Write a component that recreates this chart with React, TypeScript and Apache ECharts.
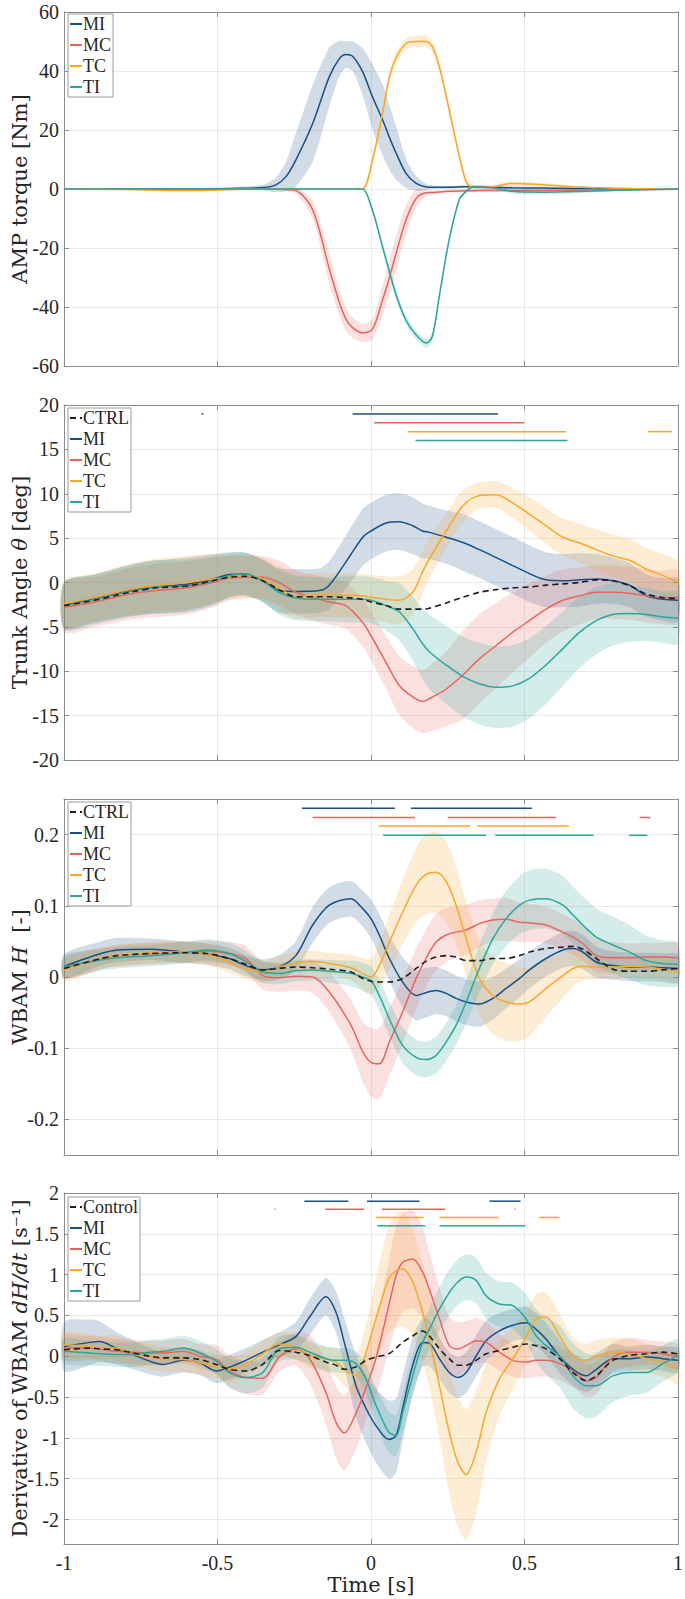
import React, { useEffect, useRef } from "react";
import * as echarts from "echarts";

// ---------- Panel 1: AMP torque [Nm] ----------
const T1 = [-1, -0.8, -0.6, -0.45, -0.35, -0.31, -0.277, -0.245, -0.19, -0.136, -0.103, -0.082, -0.06, -0.027, 0.005, 0.038, 0.06, 0.082, 0.114, 0.147, 0.18, 0.2, 0.223, 0.255, 0.288, 0.31, 0.33, 0.4, 0.46, 0.55, 0.65, 0.75, 0.85, 1];
const MI1 = [0, 0, 0, 0.2, 0.5, 1.4, 4.2, 9.8, 22.2, 38, 44.2, 45.6, 45, 39.7, 31.2, 23.4, 17.5, 12.1, 5.3, 1.9, 0.7, 0.6, 0.6, 0.6, 0.7, 0.8, 0.8, 0.6, 0.4, 0.3, 0.2, 0.1, 0, 0];
const MI1_SD = [0.3, 0.3, 0.3, 0.5, 1, 2.5, 5, 9, 13, 10, 6, 4.5, 5, 8, 11, 12, 11, 9, 5, 2.5, 1, 0.6, 0.5, 0.5, 0.5, 0.5, 0.5, 0.5, 0.5, 0.5, 0.5, 0.5, 0.3, 0.3];
const MC1 = [0, 0, 0, 0, 0, -0.1, -0.2, -0.5, -7, -27, -38.5, -44, -47, -48.8, -47.5, -37.5, -30, -21.7, -10.5, -3.2, -1.3, -1.2, -1.0, -0.8, -0.7, -0.6, -0.6, -0.5, -0.5, -0.5, -0.4, -0.3, -0.2, 0];
const MC1_SD = [0.3, 0.3, 0.3, 0.3, 0.3, 0.3, 0.5, 1, 3, 5, 4.5, 4, 3.5, 3, 3.5, 5, 6, 6, 5, 3, 1, 0.6, 0.5, 0.5, 0.5, 0.5, 0.5, 0.5, 0.5, 0.5, 0.5, 0.5, 0.3, 0.3];
const TC1 = [0, -0.2, -0.5, -0.2, 0, 0, 0, 0, 0, 0, 0, 0, 0, 0, 9.8, 26, 38, 44.5, 49.3, 50, 50, 48.2, 41.4, 26.7, 11, 2.5, 0.6, 0.8, 1.9, 1.5, 0.8, 0.4, 0.2, 0];
const TC1_SD = [0.3, 0.3, 0.3, 0.3, 0.3, 0.3, 0.3, 0.3, 0.3, 0.3, 0.3, 0.3, 0.3, 0.3, 1.5, 2, 2, 2, 2, 2, 2, 2, 2, 2, 2, 1.5, 0.8, 0.5, 0.8, 0.6, 0.4, 0.3, 0.3, 0.3];
const TI1 = [0, 0, 0, 0, 0, 0, 0, 0, 0, 0, 0, 0, 0, 0, -7.3, -19.7, -28, -36, -44.5, -49.5, -52.2, -50, -36, -17, -3.5, -0.8, 0.6, 0.3, -0.8, -1.1, -0.9, -0.6, -0.3, 0];
const TI1_SD = [0.3, 0.3, 0.3, 0.3, 0.3, 0.3, 0.3, 0.3, 0.3, 0.3, 0.3, 0.3, 0.3, 0.3, 1, 1.5, 1.5, 1.5, 1.5, 1.5, 1.5, 1.5, 1.5, 1.5, 1, 0.5, 0.5, 0.5, 0.8, 0.8, 0.6, 0.5, 0.4, 0.3];

// ---------- Panel 2: Trunk angle [deg] ----------
const T2 = [-1, -0.9, -0.786, -0.7, -0.6, -0.515, -0.46, -0.41, -0.353, -0.3, -0.245, -0.168, -0.136, -0.082, -0.027, 0, 0.049, 0.092, 0.136, 0.168, 0.19, 0.245, 0.3, 0.353, 0.408, 0.462, 0.516, 0.57, 0.625, 0.68, 0.734, 0.788, 0.842, 0.897, 0.95, 1];
const CTRL2 = [-2.6, -2.0, -1.1, -0.6, -0.4, 0.2, 0.6, 0.7, 0.2, -0.8, -1.6, -1.6, -1.6, -1.7, -1.9, -2.2, -2.6, -3.0, -3.0, -3.0, -2.9, -2.3, -1.65, -1.1, -0.8, -0.6, -0.5, -0.3, -0.15, 0.0, 0.3, 0.2, -0.35, -1.3, -1.7, -1.8];
const MI2 = [-2.6, -1.8, -0.9, -0.5, -0.2, 0.4, 0.9, 0.97, 0.2, -0.9, -1.0, -0.9, -0.3, 2.3, 5.1, 5.8, 6.7, 6.85, 6.4, 5.8, 5.65, 5.1, 4.5, 3.7, 2.8, 1.9, 1.0, 0.3, 0.2, 0.3, 0.4, 0.2, -0.3, -1.5, -1.9, -2.0];
const MI2_SD = [2.6, 2.7, 2.9, 3, 3, 2.8, 2.5, 2.4, 2.4, 2.5, 2.5, 2.5, 2.7, 3, 3.2, 3.2, 3.2, 3.2, 3.2, 3.1, 3, 3, 3.2, 3.2, 3.2, 3.2, 3.2, 3.1, 3, 3, 2.8, 2.6, 2.5, 2.4, 2.4, 2.4];
const MC2 = [-2.8, -2.2, -1.3, -0.9, -0.6, 0.0, 0.5, 0.6, 0.6, 0.0, -1.1, -1.9, -2.2, -2.6, -4.5, -6.0, -9.0, -11.6, -12.9, -13.4, -13.1, -12.0, -10.4, -8.6, -7.1, -5.6, -4.3, -3.0, -2.0, -1.5, -1.1, -1.1, -1.2, -1.5, -1.7, -1.65];
const MC2_SD = [2.8, 2.8, 2.9, 3, 3, 2.8, 2.5, 2.4, 2.4, 2.5, 2.5, 2.6, 2.6, 2.6, 2.7, 2.7, 3, 3.3, 3.5, 3.6, 3.7, 4.2, 5, 5, 4.8, 4.5, 4.2, 3.8, 3.5, 3.2, 3, 3, 3, 3, 3, 3];
const TC2 = [-2.4, -1.7, -0.8, -0.3, 0.0, 0.4, 0.6, 0.8, 0.4, -0.6, -1.6, -1.4, -1.4, -1.46, -1.5, -1.65, -1.9, -2.0, -1.1, 1.2, 2.65, 5.8, 8.65, 9.8, 9.9, 8.95, 7.7, 6.4, 5.1, 4.45, 3.7, 3.0, 2.5, 1.5, 0.8, 0.0];
const TC2_SD = [2.6, 2.7, 2.9, 3, 3, 2.8, 2.5, 2.4, 2.4, 2.5, 2.5, 2.5, 2.5, 2.5, 2.5, 2.5, 2.6, 2.7, 2.6, 2.4, 2.2, 2, 1.8, 1.5, 1.5, 1.7, 1.9, 2.0, 2.1, 2.2, 2.3, 2.4, 2.4, 2.4, 2.4, 2.4];
const TI2 = [-2.6, -1.9, -1.0, -0.5, -0.4, 0.2, 0.8, 0.95, 0.2, -1.1, -1.75, -1.9, -1.9, -1.9, -1.9, -2.0, -2.6, -3.3, -5.2, -6.9, -7.8, -9.3, -10.6, -11.4, -11.8, -11.65, -10.8, -9.3, -7.45, -5.6, -4.3, -3.6, -3.5, -3.6, -3.9, -4.0];
const TI2_SD = [2.7, 2.8, 2.9, 3, 3, 2.8, 2.5, 2.4, 2.4, 2.5, 2.5, 2.5, 2.5, 2.6, 2.6, 2.6, 2.8, 3.2, 3.6, 4, 4.2, 4.4, 4.5, 4.6, 4.6, 4.6, 4.5, 4.4, 4.2, 4, 3.8, 3.5, 3.2, 3, 2.9, 2.9];
const SIG2_Y = { MI: 19, MC: 18, TC: 17, TI: 16 };
const SIG2 = {
  MI: [[-0.552, -0.546], [-0.06, 0.414]],
  MC: [[0.01, 0.5]],
  TC: [[0.12, 0.636], [0.902, 0.98]],
  TI: [[0.145, 0.64]],
};

// ---------- Panel 3: WBAM H [-] ----------
const T3 = [-1, -0.88, -0.826, -0.717, -0.61, -0.535, -0.462, -0.408, -0.353, -0.299, -0.245, -0.19, -0.136, -0.065, -0.027, 0, 0.027, 0.06, 0.103, 0.147, 0.179, 0.212, 0.245, 0.277, 0.31, 0.353, 0.397, 0.44, 0.484, 0.516, 0.57, 0.625, 0.658, 0.69, 0.734, 0.788, 0.842, 0.897, 0.95, 1];
const CTRL3 = [0.012, 0.026, 0.03, 0.033, 0.034, 0.033, 0.026, 0.018, 0.01, 0.012, 0.014, 0.013, 0.011, 0.007, -0.002, -0.006, -0.007, -0.007, -0.002, 0.012, 0.022, 0.028, 0.03, 0.028, 0.023, 0.023, 0.026, 0.026, 0.03, 0.035, 0.04, 0.042, 0.043, 0.039, 0.026, 0.011, 0.008, 0.008, 0.01, 0.012];
const MI3 = [0.015, 0.033, 0.038, 0.039, 0.035, 0.032, 0.026, 0.016, 0.01, 0.014, 0.03, 0.073, 0.101, 0.11, 0.096, 0.082, 0.059, 0.026, -0.007, -0.026, -0.022, -0.019, -0.023, -0.03, -0.035, -0.038, -0.03, -0.016, -0.002, 0.01, 0.026, 0.038, 0.04, 0.035, 0.021, 0.016, 0.014, 0.014, 0.013, 0.012];
const MI3_SD = [0.017, 0.017, 0.017, 0.015, 0.015, 0.015, 0.015, 0.015, 0.015, 0.017, 0.02, 0.025, 0.025, 0.025, 0.025, 0.027, 0.03, 0.032, 0.035, 0.035, 0.035, 0.033, 0.032, 0.032, 0.032, 0.032, 0.03, 0.028, 0.027, 0.026, 0.025, 0.025, 0.025, 0.024, 0.022, 0.02, 0.02, 0.02, 0.02, 0.02];
const MC3 = [0.012, 0.026, 0.03, 0.033, 0.035, 0.036, 0.033, 0.026, 0.002, -0.001, 0.001, 0.0, -0.021, -0.068, -0.105, -0.12, -0.122, -0.091, -0.049, -0.002, 0.026, 0.049, 0.059, 0.063, 0.066, 0.075, 0.08, 0.081, 0.077, 0.076, 0.073, 0.063, 0.056, 0.047, 0.03, 0.027, 0.027, 0.028, 0.028, 0.027];
const MC3_SD = [0.015, 0.015, 0.015, 0.015, 0.015, 0.015, 0.016, 0.018, 0.02, 0.02, 0.02, 0.022, 0.028, 0.035, 0.042, 0.048, 0.05, 0.048, 0.045, 0.042, 0.04, 0.04, 0.038, 0.036, 0.035, 0.033, 0.03, 0.03, 0.028, 0.027, 0.026, 0.025, 0.025, 0.024, 0.023, 0.022, 0.02, 0.02, 0.02, 0.02];
const TC3 = [0.01, 0.026, 0.03, 0.034, 0.035, 0.032, 0.021, 0.012, 0.007, 0.014, 0.02, 0.022, 0.019, 0.013, 0.005, 0.0, 0.016, 0.049, 0.091, 0.129, 0.144, 0.147, 0.134, 0.101, 0.054, -0.002, -0.026, -0.035, -0.038, -0.035, -0.016, 0.002, 0.012, 0.015, 0.014, 0.014, 0.015, 0.014, 0.011, 0.007];
const TC3_SD = [0.015, 0.015, 0.015, 0.015, 0.015, 0.015, 0.015, 0.015, 0.015, 0.015, 0.015, 0.015, 0.015, 0.018, 0.022, 0.025, 0.03, 0.038, 0.045, 0.052, 0.056, 0.057, 0.056, 0.054, 0.052, 0.052, 0.054, 0.055, 0.052, 0.048, 0.04, 0.032, 0.025, 0.02, 0.017, 0.015, 0.015, 0.015, 0.015, 0.015];
const TI3 = [0.015, 0.024, 0.027, 0.03, 0.034, 0.038, 0.033, 0.022, 0.007, 0.005, 0.009, 0.01, 0.008, 0.005, 0.0, -0.005, -0.026, -0.059, -0.096, -0.113, -0.116, -0.11, -0.091, -0.068, -0.035, 0.012, 0.054, 0.082, 0.101, 0.108, 0.11, 0.101, 0.087, 0.073, 0.056, 0.045, 0.035, 0.023, 0.019, 0.018];
const TI3_SD = [0.015, 0.015, 0.015, 0.015, 0.015, 0.015, 0.015, 0.015, 0.015, 0.015, 0.015, 0.015, 0.016, 0.018, 0.02, 0.02, 0.022, 0.024, 0.025, 0.025, 0.025, 0.026, 0.027, 0.028, 0.03, 0.033, 0.036, 0.039, 0.041, 0.042, 0.042, 0.041, 0.04, 0.04, 0.04, 0.04, 0.038, 0.035, 0.033, 0.03];
const SIG3_Y = { MI: 0.237, MC: 0.224, TC: 0.212, TI: 0.199 };
const SIG3 = {
  MI: [[-0.225, 0.078], [0.13, 0.524]],
  MC: [[-0.19, 0.143], [0.25, 0.603], [0.875, 0.91]],
  TC: [[0.025, 0.324], [0.346, 0.645]],
  TI: [[0.04, 0.375], [0.405, 0.725], [0.84, 0.9]],
};

// ---------- Panel 4: Derivative of WBAM dH/dt [s^-1] ----------
const T4 = [-1, -0.916, -0.884, -0.83, -0.775, -0.721, -0.678, -0.612, -0.558, -0.504, -0.462, -0.408, -0.353, -0.299, -0.245, -0.2, -0.147, -0.114, -0.087, -0.049, -0.016, 0.016, 0.058, 0.082, 0.103, 0.136, 0.168, 0.19, 0.223, 0.255, 0.283, 0.31, 0.342, 0.375, 0.418, 0.462, 0.505, 0.538, 0.57, 0.614, 0.658, 0.701, 0.734, 0.788, 0.842, 0.897, 0.95, 1];
const CTRL4 = [0.08, 0.1, 0.09, 0.08, 0.04, 0.0, -0.02, -0.02, -0.04, -0.1, -0.16, -0.18, -0.1, 0.07, 0.05, 0.01, -0.07, -0.11, -0.16, -0.13, -0.05, -0.01, 0.03, 0.1, 0.17, 0.25, 0.31, 0.25, 0.09, -0.03, -0.11, -0.11, -0.05, 0.03, 0.07, 0.11, 0.15, 0.13, 0.09, -0.03, -0.2, -0.3, -0.24, -0.05, 0.01, 0.03, 0.05, 0.03];
const MI4 = [0.12, 0.17, 0.18, 0.1, 0.02, -0.06, -0.1, -0.05, -0.08, -0.18, -0.135, -0.05, 0.05, 0.14, 0.24, 0.48, 0.73, 0.54, 0.17, -0.36, -0.64, -0.85, -1.02, -0.97, -0.64, -0.11, 0.17, 0.16, -0.03, -0.2, -0.26, -0.2, 0.0, 0.19, 0.31, 0.38, 0.41, 0.33, 0.21, 0.0, -0.16, -0.24, -0.16, -0.03, -0.03, -0.01, -0.03, -0.05];
const MI4_SD = [0.3, 0.28, 0.25, 0.2, 0.18, 0.16, 0.15, 0.15, 0.15, 0.15, 0.15, 0.15, 0.15, 0.15, 0.18, 0.22, 0.23, 0.25, 0.3, 0.38, 0.42, 0.45, 0.48, 0.45, 0.4, 0.35, 0.3, 0.28, 0.25, 0.25, 0.25, 0.25, 0.25, 0.25, 0.22, 0.2, 0.2, 0.2, 0.2, 0.2, 0.2, 0.2, 0.2, 0.18, 0.15, 0.15, 0.15, 0.15];
const MC4 = [0.1, 0.1, 0.09, 0.06, 0.05, 0.04, 0.04, 0.06, 0.0, -0.04, -0.18, -0.26, -0.27, -0.01, 0.09, -0.03, -0.44, -0.81, -0.94, -0.7, -0.38, -0.03, 0.62, 0.99, 1.15, 1.19, 1.03, 0.82, 0.46, 0.13, 0.09, 0.13, 0.19, 0.17, 0.05, -0.05, -0.07, -0.05, -0.05, -0.09, -0.18, -0.3, -0.26, -0.01, 0.05, 0.05, 0.03, -0.01];
const MC4_SD = [0.15, 0.15, 0.15, 0.15, 0.15, 0.15, 0.15, 0.15, 0.15, 0.18, 0.2, 0.2, 0.2, 0.18, 0.2, 0.3, 0.38, 0.44, 0.46, 0.44, 0.4, 0.45, 0.55, 0.6, 0.6, 0.6, 0.55, 0.45, 0.38, 0.35, 0.33, 0.3, 0.28, 0.25, 0.22, 0.2, 0.2, 0.2, 0.2, 0.2, 0.2, 0.2, 0.2, 0.18, 0.18, 0.15, 0.15, 0.15];
const TC4 = [0.14, 0.12, 0.1, 0.1, 0.02, 0.0, -0.04, -0.04, -0.08, -0.12, -0.155, -0.1, 0.03, 0.15, 0.11, 0.01, -0.03, -0.07, -0.16, -0.24, 0.05, 0.46, 0.95, 1.05, 1.07, 0.91, 0.54, 0.21, -0.36, -0.93, -1.3, -1.45, -1.18, -0.69, -0.28, -0.03, 0.23, 0.46, 0.48, 0.25, 0.0, -0.05, 0.0, 0.05, 0.03, -0.03, -0.07, -0.16];
const TC4_SD = [0.15, 0.15, 0.15, 0.15, 0.15, 0.15, 0.15, 0.15, 0.15, 0.15, 0.15, 0.15, 0.15, 0.15, 0.15, 0.15, 0.15, 0.18, 0.2, 0.25, 0.35, 0.5, 0.65, 0.7, 0.7, 0.65, 0.6, 0.6, 0.65, 0.75, 0.8, 0.8, 0.75, 0.6, 0.45, 0.38, 0.32, 0.3, 0.3, 0.27, 0.22, 0.2, 0.2, 0.18, 0.18, 0.18, 0.18, 0.18];
const TI4 = [0.06, 0.04, 0.03, 0.02, 0.02, 0.05, 0.06, 0.1, 0.04, -0.06, -0.2, -0.26, -0.2, 0.09, 0.11, 0.05, -0.03, -0.05, -0.05, -0.09, -0.28, -0.6, -0.93, -0.97, -0.69, -0.24, 0.17, 0.33, 0.58, 0.78, 0.91, 0.97, 0.93, 0.74, 0.64, 0.62, 0.46, 0.25, 0.13, 0.0, -0.24, -0.36, -0.36, -0.24, -0.2, -0.2, -0.09, 0.01];
const TI4_SD = [0.15, 0.15, 0.15, 0.15, 0.15, 0.15, 0.15, 0.15, 0.15, 0.15, 0.18, 0.2, 0.18, 0.15, 0.15, 0.15, 0.15, 0.15, 0.15, 0.15, 0.18, 0.22, 0.25, 0.25, 0.25, 0.25, 0.25, 0.25, 0.27, 0.28, 0.28, 0.28, 0.28, 0.28, 0.28, 0.28, 0.3, 0.32, 0.35, 0.38, 0.4, 0.4, 0.38, 0.32, 0.28, 0.25, 0.22, 0.2];
const SIG4_Y = { MI: 1.9, MC: 1.8, TC: 1.7, TI: 1.6 };
const SIG4 = {
  MI: [[-0.217, -0.074], [-0.013, 0.158], [0.386, 0.487]],
  MC: [[-0.314, -0.31], [-0.149, -0.022], [0.036, 0.242], [0.468, 0.472]],
  TC: [[0.016, 0.172], [0.223, 0.416], [0.547, 0.614]],
  TI: [[0.02, 0.177], [0.223, 0.502]],
};

// ---------- tick labels ----------
const X_TICKS = [-1, -0.5, 0, 0.5, 1];
const Y1_TICKS = [-60, -40, -20, 0, 20, 40, 60];
const Y2_TICKS = [-20, -15, -10, -5, 0, 5, 10, 15, 20];
const Y3_TICKS = [-0.2, -0.1, 0, 0.1, 0.2];
const Y4_TICKS = [-2, -1.5, -1, -0.5, 0, 0.5, 1, 1.5, 2];

// ---------- styles / layout ----------
const FONT = "Liberation Serif";
const NAME_FONT = "DejaVu Serif";
const AXIS_COLOR = "#8c8c8c";
const TEXT_COLOR = "#262626";
const GRID_COLOR = "#e9e9e9";
const COL: Record<string, string> = { MI: "#174f87", MC: "#e6665e", TC: "#f9a72b", TI: "#2aa69d", CTRL: "#1e1e1e" };
const LEFT = 64;
const WIDTH = 614;
const LAYOUT = [
  { top: 12, height: 354, legendTop: 14 },
  { top: 405, height: 355, legendTop: 408 },
  { top: 799, height: 356, legendTop: 802 },
  { top: 1193, height: 351, legendTop: 1197 },
];
const NAME_SIZE = 21;

const RICH = {
  r: { fontFamily: NAME_FONT, fontSize: NAME_SIZE, color: TEXT_COLOR },
  i: { fontFamily: NAME_FONT, fontSize: NAME_SIZE, color: TEXT_COLOR, fontStyle: "italic" },
};

const PANELS = [
  {
    T: T1, ymin: -60, ymax: 60, yticks: Y1_TICKS, name: "{r|AMP torque [Nm]}",
    ctrl: null as null | number[], ctrlName: "",
    groups: [["MI", MI1, MI1_SD], ["MC", MC1, MC1_SD], ["TC", TC1, TC1_SD], ["TI", TI1, TI1_SD]],
    sig: null as any, sigY: null as any,
  },
  {
    T: T2, ymin: -20, ymax: 20, yticks: Y2_TICKS, name: "{r|Trunk Angle }{i|θ}{r| [deg]}",
    ctrl: CTRL2, ctrlName: "CTRL",
    groups: [["MI", MI2, MI2_SD], ["MC", MC2, MC2_SD], ["TC", TC2, TC2_SD], ["TI", TI2, TI2_SD]],
    sig: SIG2, sigY: SIG2_Y,
  },
  {
    T: T3, ymin: -0.25, ymax: 0.25, yticks: Y3_TICKS, name: "{r|WBAM }{i|H}{r|  [-]}",
    ctrl: CTRL3, ctrlName: "CTRL",
    groups: [["MI", MI3, MI3_SD], ["MC", MC3, MC3_SD], ["TC", TC3, TC3_SD], ["TI", TI3, TI3_SD]],
    sig: SIG3, sigY: SIG3_Y,
  },
  {
    T: T4, ymin: -2.3, ymax: 2, yticks: Y4_TICKS, name: "{r|Derivative of WBAM }{i|dH/dt}{r| [s⁻¹]}",
    ctrl: CTRL4, ctrlName: "Control",
    groups: [["MI", MI4, MI4_SD], ["MC", MC4, MC4_SD], ["TC", TC4, TC4_SD], ["TI", TI4, TI4_SD]],
    sig: SIG4, sigY: SIG4_Y,
  },
];

function buildOption() {
  const grid: any[] = [];
  const xAxis: any[] = [];
  const yAxis: any[] = [];
  const legend: any[] = [];
  const series: any[] = [];

  PANELS.forEach((p, gi) => {
    const L = LAYOUT[gi];
    grid.push({ left: LEFT, width: WIDTH, top: L.top, height: L.height, containLabel: false, outerBoundsMode: "none" });
    const tickCommon = { show: true, inside: true, length: 5, lineStyle: { color: AXIS_COLOR, width: 1 } };
    const lineCommon = { show: true, onZero: false, lineStyle: { color: AXIS_COLOR, width: 1 } };
    xAxis.push({
      type: "value", gridIndex: gi, min: -1, max: 1, position: "bottom",
      axisLine: lineCommon,
      axisTick: { ...tickCommon, customValues: X_TICKS },
      axisLabel: { show: gi === 3, customValues: X_TICKS, margin: 9, fontFamily: FONT, fontSize: 20, color: TEXT_COLOR },
      splitLine: { show: true, lineStyle: { color: GRID_COLOR, width: 1 } },
      name: gi === 3 ? "Time [s]" : "", nameLocation: "middle", nameGap: 30, nameMoveOverlap: false,
      nameTextStyle: { fontFamily: NAME_FONT, fontSize: NAME_SIZE, color: TEXT_COLOR },
    });
    xAxis.push({
      type: "value", gridIndex: gi, min: -1, max: 1, position: "top",
      axisLine: lineCommon,
      axisTick: { ...tickCommon, customValues: X_TICKS },
      axisLabel: { show: false },
      splitLine: { show: false },
    });
    yAxis.push({
      type: "value", gridIndex: gi, min: p.ymin, max: p.ymax, position: "left",
      axisLine: lineCommon,
      axisTick: { ...tickCommon, customValues: p.yticks },
      axisLabel: { show: true, customValues: p.yticks, margin: 5, fontFamily: FONT, fontSize: 20, color: TEXT_COLOR },
      splitLine: { show: true, lineStyle: { color: GRID_COLOR, width: 1 } },
      name: p.name, nameLocation: "middle", nameGap: 34, nameRotate: 90, nameMoveOverlap: false,
      nameTextStyle: { rich: RICH, fontFamily: NAME_FONT, fontSize: NAME_SIZE, color: TEXT_COLOR },
    });
    yAxis.push({
      type: "value", gridIndex: gi, min: p.ymin, max: p.ymax, position: "right",
      axisLine: lineCommon,
      axisTick: { ...tickCommon, customValues: p.yticks },
      axisLabel: { show: false },
      splitLine: { show: false },
    });

    const xi = gi * 2;
    // shaded bands (mean ± spread)
    p.groups.forEach((g: any) => {
      const [nm, mean, sd] = g;
      series.push({
        type: "custom", xAxisIndex: xi, yAxisIndex: xi, silent: true, z: 1,
        data: [[p.T[0], mean[0]]],
        renderItem: (_params: any, api: any) => {
          const up = p.T.map((t: number, k: number) => api.coord([t, mean[k] + sd[k]]));
          const lo = p.T.map((t: number, k: number) => api.coord([t, mean[k] - sd[k]])).reverse();
          return {
            type: "polygon",
            shape: { points: up.concat(lo), smooth: 0.25 },
            style: { fill: COL[nm], opacity: 0.2 },
          };
        },
      });
    });
    // mean lines
    p.groups.forEach((g: any) => {
      const [nm, mean] = g;
      series.push({
        type: "line", name: nm, xAxisIndex: xi, yAxisIndex: xi,
        data: p.T.map((t: number, k: number) => [t, mean[k]]),
        smooth: 0.3, symbol: "none", showSymbol: false, silent: true, z: 3,
        lineStyle: { color: COL[nm], width: 1.5 }, itemStyle: { color: COL[nm] },
      });
    });
    if (p.ctrl) {
      const c = p.ctrl;
      series.push({
        type: "line", name: p.ctrlName, xAxisIndex: xi, yAxisIndex: xi,
        data: p.T.map((t: number, k: number) => [t, c[k]]),
        smooth: 0.3, symbol: "none", showSymbol: false, silent: true, z: 4,
        lineStyle: { color: COL.CTRL, width: 1.6, type: [6, 4] }, itemStyle: { color: COL.CTRL },
      });
    }
    // significance bars
    if (p.sig) {
      ["MI", "MC", "TC", "TI"].forEach((nm) => {
        const y = p.sigY[nm];
        series.push({
          type: "custom", xAxisIndex: xi, yAxisIndex: xi, silent: true, z: 3,
          data: p.sig[nm].map((s: number[]) => [s[0], s[1], y]),
          encode: { x: [0, 1], y: 2 },
          renderItem: (_params: any, api: any) => {
            const a = api.coord([api.value(0), api.value(2)]);
            const b = api.coord([api.value(1), api.value(2)]);
            return {
              type: "line",
              shape: { x1: a[0], y1: a[1], x2: Math.max(b[0], a[0] + 1), y2: b[1] },
              style: { stroke: COL[nm], lineWidth: 1.5 },
            };
          },
        });
      });
    }

    const names = p.ctrl ? [p.ctrlName, "MI", "MC", "TC", "TI"] : ["MI", "MC", "TC", "TI"];
    legend.push({
      show: true, orient: "vertical", left: 68, top: L.legendTop,
      data: names, itemWidth: 12, itemHeight: 10, itemGap: 3,
      padding: [1, 2, 1, 1], borderColor: "#9a9a9a", borderWidth: 1, backgroundColor: "#ffffff",
      selectedMode: false,
      itemStyle: { opacity: 0 },
      textStyle: { fontFamily: FONT, fontSize: 18, color: TEXT_COLOR, lineHeight: 18, padding: [0, 0, 0, -4] },
    });
  });

  return { animation: false, backgroundColor: "#ffffff", grid, xAxis, yAxis, legend, series };
}

export default function App() {
  const ref = useRef<HTMLDivElement>(null);
  useEffect(() => {
    if (!ref.current) return;
    const chart = echarts.init(ref.current, null, { renderer: "svg" });
    chart.setOption(buildOption() as any);
    return () => chart.dispose();
  }, []);
  return (
    <div
      ref={ref}
      style={{ position: "absolute", left: 0, top: 0, width: 685, height: 1599, background: "#fff" }}
    />
  );
}
